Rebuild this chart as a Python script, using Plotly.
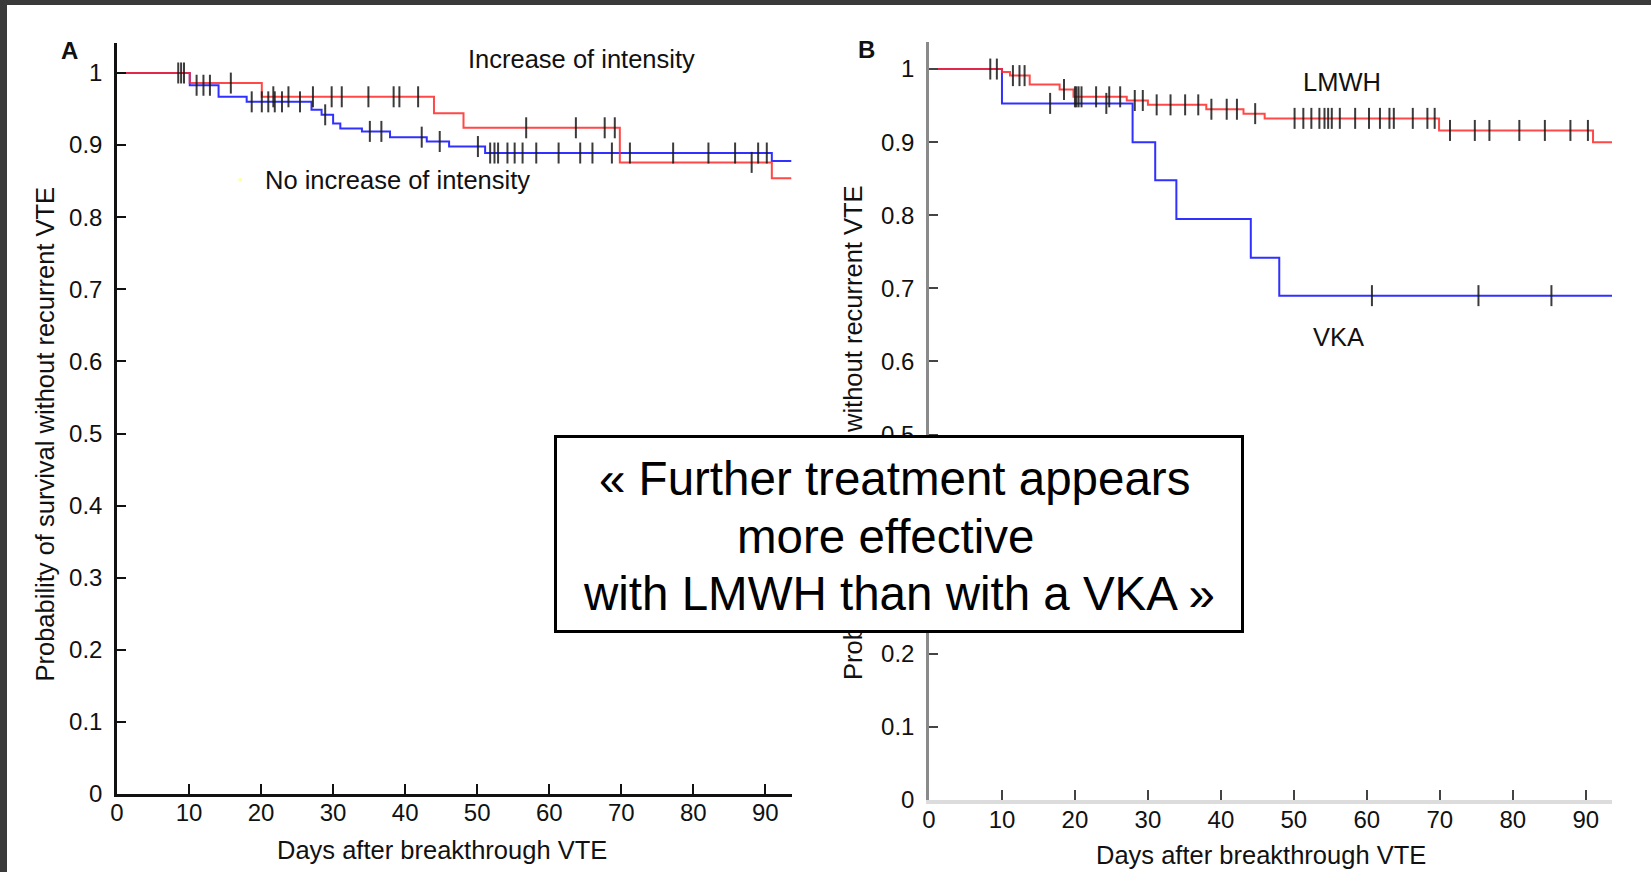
import plotly.graph_objects as go
from bisect import bisect_right

W, H = 1651, 872

# ---------------- data ----------------
# Panel A: Increase of intensity (red) / No increase of intensity (blue)
a_inc_t = [0, 10.1, 20.1, 44.0, 48.1, 69.8, 90.9, 93.6]
a_inc_s = [1.0, 0.986, 0.967, 0.944, 0.924, 0.876, 0.854, 0.854]
a_inc_cens = [8.5, 8.9, 9.3, 15.8, 21.7, 23.8, 27.2, 29.8, 31.2, 34.9, 38.4, 39.2,
              41.8, 56.8, 63.7, 67.7, 69.1, 88.1]

a_no_t = [0, 10.1, 14.1, 18.0, 27.0, 28.4, 30.0, 31.0, 34.0, 37.9, 43.0, 46.1, 51.1, 90.9, 93.6]
a_no_s = [1.0, 0.983, 0.967, 0.960, 0.949, 0.942, 0.930, 0.923, 0.919, 0.911, 0.905, 0.898,
          0.889, 0.878, 0.878]
a_no_cens = [11.05, 12.0, 12.9, 18.7, 20.1, 21.0, 21.9, 22.9, 25.4, 28.9, 35.1, 36.7, 42.3,
             44.8, 50.1, 51.8, 52.4, 52.9, 54.2, 55.2, 56.3, 58.2, 61.3, 64.3, 66.0, 68.7,
             71.2, 77.2, 82.1, 85.8, 89.0, 90.2]

# Panel B: LMWH (red) / VKA (blue)
b_lmwh_t = [0, 10.0, 11.1, 13.8, 17.9, 19.8, 27.1, 30.0, 38.0, 43.1, 46.0, 69.9, 91.0, 93.7]
b_lmwh_s = [1.0, 0.996, 0.991, 0.979, 0.972, 0.962, 0.957, 0.951, 0.945, 0.939, 0.9325,
            0.916, 0.900, 0.900]
b_lmwh_cens = [8.4, 9.3, 11.5, 12.4, 13.1, 18.5, 20.0, 20.2, 20.5, 20.9, 22.9, 24.7, 26.2,
               28.2, 29.3, 31.2, 33.1, 35.1, 36.9, 38.7, 40.8, 42.2, 44.7, 50.1, 51.3, 52.4,
               53.5, 54.2, 54.7, 55.2, 56.3, 58.4, 60.3, 61.8, 63.1, 63.7, 66.3, 68.3, 69.3,
               71.4, 74.8, 76.8, 80.9, 84.4, 87.9, 90.3]

b_vka_t = [0, 10.0, 27.9, 31.0, 33.9, 44.1, 48.0, 93.6]
b_vka_s = [1.0, 0.953, 0.900, 0.848, 0.795, 0.742, 0.690, 0.690]
b_vka_cens = [16.6, 24.3, 60.7, 75.3, 85.3]

y_tickvals = [0, 0.1, 0.2, 0.3, 0.4, 0.5, 0.6, 0.7, 0.8, 0.9, 1.0]
y_ticktext = ["0", "0.1", "0.2", "0.3", "0.4", "0.5", "0.6", "0.7", "0.8", "0.9", "1"]
x_tickvals = [0, 10, 20, 30, 40, 50, 60, 70, 80, 90]
x_ticktext = ["0", "10", "20", "30", "40", "50", "60", "70", "80", "90"]

x_title = "Days after breakthrough VTE"
y_title = "Probability of survival without recurrent VTE"
box_lines = ["« Further treatment appears", "more effective ", "with LMWH than with a VKA »"]

# ---------------- helpers ----------------
FONT = "Liberation Sans, Arial, Helvetica, sans-serif"
RED = "rgba(255,40,40,0.85)"
BLUE = "rgba(25,25,255,0.9)"
CENS = "rgba(25,25,25,0.85)"


def px(x):
    return x / W


def py(y):
    return 1 - y / H


def surv_at(ts, ss, t):
    i = bisect_right(ts, t) - 1
    return ss[max(i, 0)]


def step_trace(ts, ss, color, xa, ya):
    return go.Scatter(x=ts, y=ss, mode="lines", line=dict(color=color, width=2, shape="hv"),
                      xaxis=xa, yaxis=ya, showlegend=False, hoverinfo="skip")


def cens_trace(ts, ss, cens, xa, ya):
    return go.Scatter(x=cens, y=[surv_at(ts, ss, c) for c in cens], mode="markers",
                      marker=dict(symbol="line-ns", size=15, line=dict(width=2, color=CENS)),
                      xaxis=xa, yaxis=ya, showlegend=False, hoverinfo="skip")


fig = go.Figure()
# Panel A
fig.add_trace(step_trace(a_no_t, a_no_s, BLUE, "x", "y"))
fig.add_trace(step_trace(a_inc_t, a_inc_s, RED, "x", "y"))
fig.add_trace(cens_trace(a_no_t, a_no_s, a_no_cens, "x", "y"))
fig.add_trace(cens_trace(a_inc_t, a_inc_s, a_inc_cens, "x", "y"))
fig.add_trace(go.Scatter(x=[17.1], y=[0.852], mode="markers",
                         marker=dict(size=4, color="rgba(255,255,150,0.8)"),
                         showlegend=False, hoverinfo="skip"))
# Panel B
fig.add_trace(step_trace(b_vka_t, b_vka_s, BLUE, "x2", "y2"))
fig.add_trace(step_trace(b_lmwh_t, b_lmwh_s, RED, "x2", "y2"))
fig.add_trace(cens_trace(b_vka_t, b_vka_s, b_vka_cens, "x2", "y2"))
fig.add_trace(cens_trace(b_lmwh_t, b_lmwh_s, b_lmwh_cens, "x2", "y2"))

tickfont = dict(family=FONT, size=24, color="#111")

common_x = dict(tickmode="array", tickvals=x_tickvals, ticktext=x_ticktext, ticks="inside",
                ticklen=10, tickwidth=2, showgrid=False, zeroline=False, showline=True,
                tickfont=tickfont, ticklabelstandoff=-5, fixedrange=True, automargin=False)
common_y = dict(tickmode="array", tickvals=y_tickvals, ticktext=y_ticktext, ticks="inside",
                ticklen=9, tickwidth=2, showgrid=False, zeroline=False, showline=True,
                tickfont=tickfont, ticklabelstandoff=7, fixedrange=True, automargin=False)

fig.update_layout(
    width=W, height=H,
    margin=dict(l=0, r=0, t=0, b=0, autoexpand=False),
    paper_bgcolor="white", plot_bgcolor="rgba(0,0,0,0)",
    showlegend=False,
    xaxis=dict(domain=[px(117), px(792)], range=[0, 93.7], anchor="y",
               linecolor="#111", linewidth=2.5, tickcolor="#111", **common_x),
    yaxis=dict(domain=[py(794), py(43)], range=[0, 1.0416], anchor="x",
               linecolor="#111", linewidth=2.5, tickcolor="#111", **common_y),
    xaxis2=dict(domain=[px(929), px(1612)], range=[0, 93.6], anchor="y2",
                linecolor="#dcdcdc", linewidth=4, tickcolor="#444", **common_x),
    yaxis2=dict(domain=[py(800), py(42)], range=[0, 1.037], anchor="x2",
                linecolor="#8a8a8a", linewidth=2.5, tickcolor="#444", **common_y),
)

lab = dict(family=FONT, size=25.5, color="#111")
ann = []


def add(text, x, y, font, **kw):
    d = dict(text=text, x=px(x), y=py(y), xref="paper", yref="paper", showarrow=False,
             xanchor="center", yanchor="middle", font=font)
    d.update(kw)
    ann.append(d)


add("<b>A</b>", 69.5, 50.5, dict(family=FONT, size=24, color="#111"))
add("<b>B</b>", 866.5, 49.5, dict(family=FONT, size=24, color="#111"))
add("Increase of intensity", 581, 59, lab)
add("No increase of intensity", 397, 180, lab)
add("LMWH", 1341.5, 82, lab)
add("VKA", 1338, 337, lab)
add(x_title, 442.5, 850, lab)
add(x_title, 1260.5, 855, lab)
add(y_title, 44.5, 434, lab, textangle=-90)
add(y_title, 853, 433, lab, textangle=-90)
# the quote box (drawn over the axes of panel B)
add(" ", 898.7, 534.4, dict(family=FONT, size=10), width=684, height=192,
    bgcolor="white", bordercolor="#000", borderwidth=3, borderpad=0)
boxfont = dict(family=FONT, size=47.5, color="#000")
add(box_lines[0], 894, 479, boxfont)
add(box_lines[1], 892, 536, boxfont)
add(box_lines[2], 899, 593, boxfont)

fig.update_layout(annotations=ann)

# dark frame on the top and left edges of the screenshot
fig.update_layout(shapes=[
    dict(type="rect", xref="paper", yref="paper", x0=0, x1=px(7), y0=0, y1=1,
         fillcolor="#3a3a3a", line=dict(width=0), layer="above"),
    dict(type="rect", xref="paper", yref="paper", x0=0, x1=1, y0=py(5), y1=1,
         fillcolor="#3a3a3a", line=dict(width=0), layer="above"),
])

fig.write_html("out.html", config=dict(displayModeBar=False))
